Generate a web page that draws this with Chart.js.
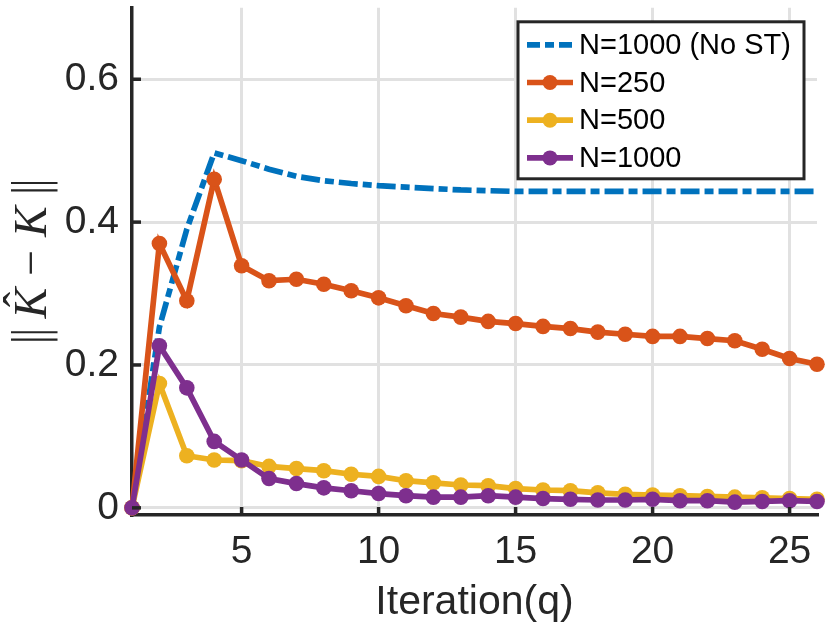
<!DOCTYPE html>
<html>
<head>
<meta charset="utf-8">
<script src="https://cdn.jsdelivr.net/npm/chart.js@4.4.1/dist/chart.umd.min.js"></script>
<style>
  html, body { margin: 0; padding: 0; background: #ffffff; }
  #wrap { width: 830px; height: 633px; position: relative; }
</style>
</head>
<body>
<div id="wrap"><canvas id="chart"></canvas></div>
<script>
// data
const iterations = [1, 2, 3, 4, 5, 6, 7, 8, 9, 10, 11, 12, 13, 14, 15, 16, 17, 18, 19, 20, 21, 22, 23, 24, 25, 26];
const noST1000 = [0, 0.253, 0.390, 0.497, 0.486, 0.474, 0.464, 0.458, 0.454, 0.451, 0.449, 0.447, 0.445, 0.444, 0.443, 0.443, 0.443, 0.443, 0.443, 0.443, 0.443, 0.443, 0.443, 0.443, 0.443, 0.443];
const n250 = [0, 0.370, 0.290, 0.460, 0.339, 0.318, 0.320, 0.313, 0.304, 0.294, 0.283, 0.272, 0.267, 0.261, 0.258, 0.254, 0.251, 0.246, 0.243, 0.240, 0.240, 0.237, 0.234, 0.222, 0.209, 0.201];
const n500 = [0, 0.174, 0.073, 0.067, 0.066, 0.058, 0.055, 0.052, 0.047, 0.044, 0.038, 0.035, 0.032, 0.031, 0.027, 0.025, 0.024, 0.021, 0.019, 0.018, 0.017, 0.016, 0.015, 0.014, 0.013, 0.012];
const n1000 = [0, 0.227, 0.168, 0.093, 0.067, 0.041, 0.034, 0.028, 0.024, 0.020, 0.017, 0.015, 0.015, 0.017, 0.015, 0.013, 0.012, 0.011, 0.011, 0.012, 0.010, 0.010, 0.008, 0.009, 0.010, 0.009];

const seriesLabels = ["N=1000 (No ST)", "N=250", "N=500", "N=1000"];
const xTicks = [5, 10, 15, 20, 25];
const yTicks = [0, 0.2, 0.4, 0.6];

const textColor = "#262626";
const gridColor = "#e1e1e1";
const colors = ["#0072BD", "#D95319", "#EDB120", "#7E2F8E"];
const blueDash = [19, 5, 9, 5];
const fontFamily = '"Liberation Sans", Arial, Helvetica, sans-serif';

function toPoints(values) {
  return iterations.map((q, i) => ({ x: q, y: values[i] }));
}

// inward tick marks, like the original figure
const inwardTicks = {
  id: "inwardTicks",
  afterDatasetsDraw(chart) {
    const { ctx, chartArea, scales } = chart;
    ctx.save();
    ctx.strokeStyle = textColor;
    ctx.lineWidth = 3.5;
    xTicks.forEach(v => {
      const px = scales.x.getPixelForValue(v);
      ctx.beginPath();
      ctx.moveTo(px, chartArea.bottom);
      ctx.lineTo(px, chartArea.bottom - 8);
      ctx.stroke();
    });
    yTicks.forEach(v => {
      const py = scales.y.getPixelForValue(v);
      ctx.beginPath();
      ctx.moveTo(chartArea.left, py);
      ctx.lineTo(chartArea.left + 9, py);
      ctx.stroke();
    });
    ctx.restore();
  }
};

// y axis label ||K^ - K||, drawn as rotated text
const yAxisLabel = {
  id: "yAxisLabel",
  afterDraw(chart) {
    const { ctx, chartArea } = chart;
    const size = 46;
    const upright = size + 'px "Liberation Serif", "DejaVu Serif", serif';
    const italic = 'italic ' + size + 'px "Liberation Serif", "DejaVu Serif", serif';
    const bars = '300 ' + size + 'px "DejaVu Sans", "DejaVu Serif", serif';
    const parts = [
      { t: "\u2016", f: bars, gap: 6 },
      { t: "K", f: italic, gap: 12, hat: true },
      { t: "\u2212", f: upright, gap: 13 },
      { t: "K", f: italic, gap: 8 },
      { t: "\u2016", f: bars, gap: 0 }
    ];
    ctx.save();
    let total = 0;
    parts.forEach(p => {
      ctx.font = p.f;
      p.w = ctx.measureText(p.t).width;
      total += p.w + p.gap;
    });
    ctx.translate(46, (chartArea.top + chartArea.bottom) / 2);
    ctx.rotate(-Math.PI / 2);
    ctx.fillStyle = textColor;
    ctx.textBaseline = "alphabetic";
    ctx.textAlign = "left";
    let cx = -total / 2;
    parts.forEach(p => {
      ctx.font = p.f;
      ctx.fillText(p.t, cx, 0);
      if (p.hat) {
        ctx.font = upright;
        ctx.textAlign = "center";
        ctx.fillText("\u02C6", cx + p.w * 0.62, -10);
        ctx.textAlign = "left";
      }
      cx += p.w + p.gap;
    });
    ctx.restore();
  }
};

// boxed legend inside the plot, top right
const boxLegend = {
  id: "boxLegend",
  afterDraw(chart) {
    const { ctx, chartArea } = chart;
    const boxRight = chartArea.right - 13;
    const boxW = 286, boxH = 157;
    const boxLeft = boxRight - boxW, boxTop = chartArea.top + 14;
    ctx.save();
    ctx.fillStyle = "#ffffff";
    ctx.fillRect(boxLeft, boxTop, boxW, boxH);
    ctx.strokeStyle = textColor;
    ctx.lineWidth = 3;
    ctx.strokeRect(boxLeft, boxTop, boxW, boxH);
    ctx.font = '29px ' + fontFamily;
    ctx.textBaseline = "middle";
    ctx.textAlign = "left";
    seriesLabels.forEach((label, i) => {
      const y = boxTop + 23 + i * 37.7;
      const x0 = boxLeft + 9, x1 = boxLeft + 55;
      ctx.strokeStyle = colors[i];
      ctx.lineWidth = 5.7;
      ctx.setLineDash(i === 0 ? [13, 5, 9, 5] : []);
      ctx.beginPath();
      ctx.moveTo(x0, y);
      ctx.lineTo(x1, y);
      ctx.stroke();
      ctx.setLineDash([]);
      if (i > 0) {
        ctx.fillStyle = colors[i];
        ctx.beginPath();
        ctx.arc((x0 + x1) / 2, y, 7.5, 0, Math.PI * 2);
        ctx.fill();
      }
      ctx.fillStyle = "#000000";
      ctx.fillText(label, boxLeft + 61, y + 1);
    });
    ctx.restore();
  }
};

const datasets = [
  {
    label: seriesLabels[0], data: toPoints(noST1000), borderColor: colors[0],
    borderWidth: 5.7, borderDash: blueDash, pointRadius: 0, order: 4
  },
  {
    label: seriesLabels[1], data: toPoints(n250), borderColor: colors[1], backgroundColor: colors[1],
    borderWidth: 5.7, pointRadius: 7.8, pointBorderWidth: 0, order: 3
  },
  {
    label: seriesLabels[2], data: toPoints(n500), borderColor: colors[2], backgroundColor: colors[2],
    borderWidth: 5.7, pointRadius: 7.8, pointBorderWidth: 0, order: 2
  },
  {
    label: seriesLabels[3], data: toPoints(n1000), borderColor: colors[3], backgroundColor: colors[3],
    borderWidth: 5.7, pointRadius: 7.8, pointBorderWidth: 0, order: 1
  }
];

new Chart(document.getElementById("chart"), {
  type: "line",
  data: { datasets: datasets },
  options: {
    responsive: true,
    maintainAspectRatio: false,
    animation: false,
    devicePixelRatio: 1,
    layout: { padding: { left: 0, right: 13, top: 3, bottom: 0 } },
    elements: { line: { tension: 0, fill: false } },
    clip: false,
    plugins: {
      legend: { display: false },
      tooltip: { enabled: false }
    },
    scales: {
      x: {
        type: "linear",
        min: 1,
        max: 26,
        afterBuildTicks: scale => { scale.ticks = xTicks.map(v => ({ value: v })); },
        afterFit: scale => {
          scale.height = 118;
          scale.paddingLeft = 0;
          scale.paddingRight = 0;
        },
        grid: { color: gridColor, lineWidth: 3, drawTicks: false },
        border: { color: textColor, width: 3.5 },
        ticks: {
          color: textColor,
          padding: 14,
          font: { family: fontFamily, size: 39 },
          callback: v => String(v)
        },
        title: {
          display: true,
          text: "Iteration(q)",
          color: textColor,
          padding: { top: 0, bottom: 6 },
          font: { family: fontFamily, size: 41 }
        }
      },
      y: {
        min: -0.01,
        max: 0.7,
        afterBuildTicks: scale => { scale.ticks = yTicks.map(v => ({ value: v })); },
        afterFit: scale => {
          scale.width = 132;
          scale.paddingTop = 0;
          scale.paddingBottom = 0;
        },
        grid: { color: gridColor, lineWidth: 3, drawTicks: false },
        border: { color: textColor, width: 3.5 },
        ticks: {
          color: textColor,
          padding: 13,
          font: { family: fontFamily, size: 39 },
          callback: v => String(Math.round(v * 10) / 10)
        }
      }
    }
  },
  plugins: [inwardTicks, yAxisLabel, boxLegend]
});
</script>
</body>
</html>
